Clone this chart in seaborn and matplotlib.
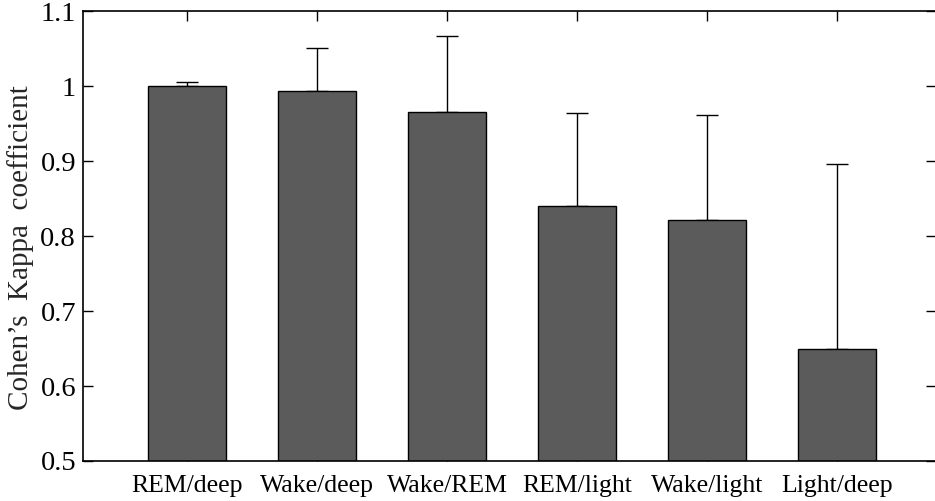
import matplotlib
matplotlib.use("Agg")
import matplotlib.pyplot as plt
import seaborn as sns
import pandas as pd
import numpy as np
from matplotlib.ticker import FuncFormatter

categories = ["REM/deep", "Wake/deep", "Wake/REM", "REM/light", "Wake/light", "Light/deep"]
kappa = [1.000, 0.994, 0.965, 0.840, 0.821, 0.649]
err_upper = [0.006, 0.057, 0.102, 0.124, 0.140, 0.247]
y_ticks = [0.5, 0.6, 0.7, 0.8, 0.9, 1.0, 1.1]

sns.set_theme(style="ticks")
plt.rcParams["font.family"] = ["Liberation Serif", "DejaVu Serif"]

df = pd.DataFrame({"pair": categories, "kappa": kappa})

fig = plt.figure(figsize=(9.35, 5.01), dpi=100)
ax = fig.add_axes([83 / 935, 1 - 461 / 501, (936 - 83) / 935, (461 - 11) / 501])

sns.barplot(data=df, x="pair", y="kappa", order=categories, color="#5b5b5b",
            saturation=1, width=0.6, edgecolor="black", linewidth=1.0,
            errorbar=None, ax=ax, zorder=2)

x = np.arange(len(categories))
ax.errorbar(x, kappa, yerr=[np.zeros(len(kappa)), err_upper], fmt="none",
            ecolor="black", elinewidth=1.0, capsize=8, capthick=1.0, zorder=1.5)

ax.set_ylim(0.5, 1.1)
ax.set_xlim(-0.8, 5.76)
ax.set_yticks(y_ticks)
ax.yaxis.set_major_formatter(FuncFormatter(lambda v, p: f"{v:g}"))
ax.set_xlabel("")
ax.set_ylabel("Cohen\u2019s  Kappa  coefficient", fontsize=21)
ax.yaxis.set_label_coords(-0.057, 0.475)
ax.set_axisbelow(True)

for s in ax.spines.values():
    s.set_visible(True)
    s.set_linewidth(1.2)
    s.set_color("black")

ax.tick_params(axis="both", which="both", direction="in", length=7, width=1.0,
               colors="black", top=True, right=True)
ax.tick_params(axis="x", pad=10, labelsize=18.5)
ax.tick_params(axis="y", pad=5, labelsize=20.5)

fig.savefig("out.png", dpi=100)
